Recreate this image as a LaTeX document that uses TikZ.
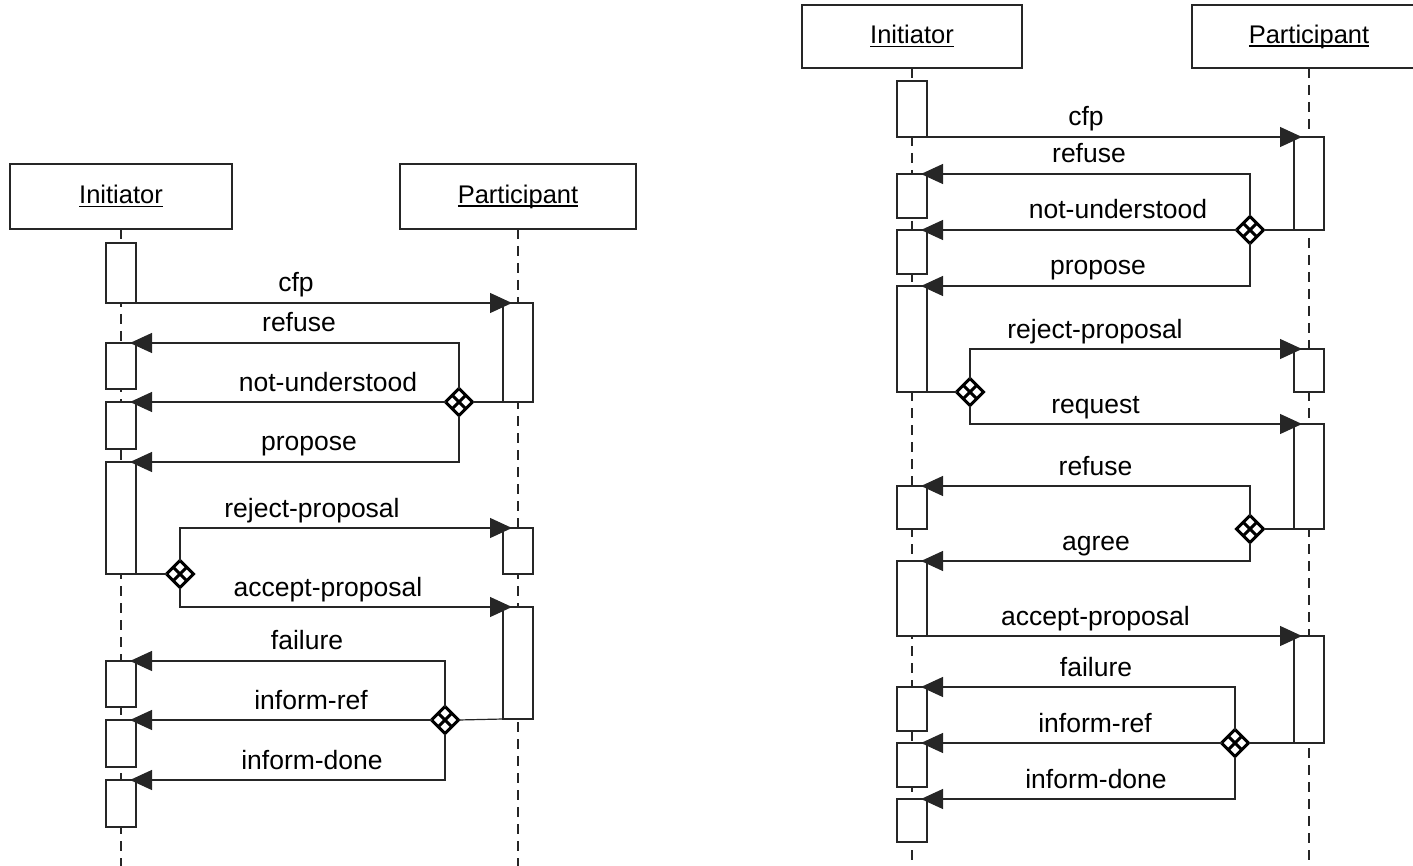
\documentclass[tikz,border=0pt]{standalone}
\usepackage{fontspec}
\setmainfont{Liberation Sans}
\usetikzlibrary{arrows.meta,shapes.geometric,calc}
\newcommand\myul[1]{\setbox0\hbox{#1}\rlap{\rule[-3.5pt]{\wd0}{1.3pt}}\box0}
\tikzset{
  ln/.style={line width=1.2pt, draw=black!85},
  head/.style={ln, rectangle, inner sep=0pt, outer sep=0pt, minimum height=65pt,
    font=\fontsize{25.5}{30}\selectfont},
  act/.style={ln, fill=white, rectangle, inner sep=0pt, outer sep=0pt, minimum width=30pt, anchor=north},
  life/.style={ln, dash pattern=on 10pt off 7pt},
  msg/.style={ln, -{Triangle[length=22pt,width=20pt]}},
  lbl/.style={font=\fontsize{26.5}{30}\selectfont, anchor=base, inner sep=0pt},
  dec/.style={diamond, draw=black, fill=white, line width=3pt, minimum size=27pt, inner sep=0pt, outer sep=0pt, aspect=1},
}
\newcommand\crossdec[1]{\draw[line width=3pt] ($(#1.north)!.5!(#1.east)$) -- ($(#1.south)!.5!(#1.west)$) ($(#1.north)!.5!(#1.west)$) -- ($(#1.south)!.5!(#1.east)$);}
\begin{document}
\begin{tikzpicture}[x=1pt,y=-1pt]
\useasboundingbox (0,0) rectangle (1413,866);
% ===================== LEFT DIAGRAM =====================
\node[head, draw, minimum width=222pt] (LI) at (121,196.5) {\myul{Initiator}};
\node[head, draw, minimum width=236pt] (LP) at (518,196.5) {\myul{Participant}};
\coordinate (LIe) at (121,866);
\coordinate (LPe) at (518,866);
\draw[life] (LI.south) -- (LIe);
\draw[life] (LP.south) -- (LPe);
% activations
\node[act, minimum height=60pt]  (ia1) at (121,243) {};
\node[act, minimum height=99pt]  (pa1) at (518,303) {};
\node[act, minimum height=46pt]  (ib2) at (121,343) {};
\node[act, minimum height=47pt]  (ib3) at (121,402) {};
\node[act, minimum height=112pt] (ib4) at (121,462) {};
\node[act, minimum height=46pt]  (pa2) at (518,528) {};
\node[act, minimum height=112pt] (pa3) at (518,607) {};
\node[act, minimum height=46pt]  (ib5) at (121,661) {};
\node[act, minimum height=47pt]  (ib6) at (121,720) {};
\node[act, minimum height=47pt]  (ib7) at (121,780) {};
% decisions
\node[dec] (dA) at (459,402) {};
\node[dec] (dB) at (180,574) {};
\node[dec] (dC) at (445,720) {};
% messages
\draw[msg] (ia1.south east) -- ([xshift=-6pt]pa1.north);
\draw[msg] (dA.north) |- ([xshift=9pt]ib2.north);
\draw[ln] (pa1.south west) -- (dA.east);
\draw[msg] (dA.west) -- ([xshift=9pt]ib3.north);
\draw[msg] (dA.south) |- ([xshift=9pt]ib4.north);
\draw[ln] (ib4.south east) -- (dB.west);
\draw[msg] (dB.north) |- ([xshift=-6pt]pa2.north);
\draw[msg] (dB.south) |- ([xshift=-6pt]pa3.north);
\draw[msg] (dC.north) |- ([xshift=9pt]ib5.north);
\draw[ln] (pa3.south west) -- (dC.east);
\draw[msg] (dC.west) -- ([xshift=9pt]ib6.north);
\draw[msg] (dC.south) |- ([xshift=9pt]ib7.north);
\crossdec{dA}\crossdec{dB}\crossdec{dC}
% labels
\node[lbl] (l1) at (296,292) {cfp};
\node[lbl] (l2) at (299,332) {refuse};
\node[lbl] (l3) at (328,391) {not-understood};
\node[lbl] (l4) at (309,450) {propose};
\node[lbl] (l5) at (312,517) {reject-proposal};
\node[lbl] (l6) at (328,596) {accept-proposal};
\node[lbl] (l7) at (307,649) {failure};
\node[lbl] (l8) at (311,709) {inform-ref};
\node[lbl] (l9) at (312,769) {inform-done};
% ===================== RIGHT DIAGRAM =====================
\node[head, draw, minimum width=220pt, minimum height=63pt] (RI) at (912,36.5) {\myul{Initiator}};
\node[head, draw, minimum width=234pt, minimum height=63pt] (RP) at (1309,36.5) {\myul{Participant}};
\coordinate (RIe) at (912,866);
\coordinate (RPe) at (1309,866);
\draw[life] (RI.south) -- (RIe);
\draw[life] (RP.south) -- (RPe);
% activations
\node[act, minimum height=56pt]  (ra1)  at (912,81) {};
\node[act, minimum height=93pt]  (rpa1) at (1309,137) {};
\node[act, minimum height=44pt]  (rb2)  at (912,174) {};
\node[act, minimum height=44pt]  (rb3)  at (912,230) {};
\node[act, minimum height=106pt] (rb4)  at (912,286) {};
\node[act, minimum height=43pt]  (rpa2) at (1309,349) {};
\node[act, minimum height=105pt] (rpa3) at (1309,424) {};
\node[act, minimum height=43pt]  (rb5)  at (912,486) {};
\node[act, minimum height=75pt]  (rb6)  at (912,561) {};
\node[act, minimum height=107pt] (rpa4) at (1309,636) {};
\node[act, minimum height=44pt]  (rb7)  at (912,687) {};
\node[act, minimum height=44pt]  (rb8)  at (912,743) {};
\node[act, minimum height=43pt]  (rb9)  at (912,799) {};
% decisions
\node[dec] (rdA) at (1250,230) {};
\node[dec] (rdB) at (970,392) {};
\node[dec] (rdC) at (1250,529) {};
\node[dec] (rdD) at (1235,743) {};
% messages
\draw[msg] (ra1.south east) -- ([xshift=-7pt]rpa1.north);
\draw[msg] (rdA.north) |- ([xshift=9pt]rb2.north);
\draw[ln] (rpa1.south west) -- (rdA.east);
\draw[msg] (rdA.west) -- ([xshift=9pt]rb3.north);
\draw[msg] (rdA.south) |- ([xshift=9pt]rb4.north);
\draw[ln] (rb4.south east) -- (rdB.west);
\draw[msg] (rdB.north) |- ([xshift=-7pt]rpa2.north);
\draw[msg] (rdB.south) |- ([xshift=-7pt]rpa3.north);
\draw[msg] (rdC.north) |- ([xshift=9pt]rb5.north);
\draw[ln] (rpa3.south west) -- (rdC.east);
\draw[msg] (rdC.south) |- ([xshift=9pt]rb6.north);
\draw[msg] (rb6.south east) -- ([xshift=-7pt]rpa4.north);
\draw[line width=2.6pt, black!85] ([xshift=-60pt]rpa4.north) -- ([xshift=-30pt]rpa4.north);
\draw[msg] (rdD.north) |- ([xshift=9pt]rb7.north);
\draw[ln] (rpa4.south west) -- (rdD.east);
\draw[msg] (rdD.west) -- ([xshift=9pt]rb8.north);
\draw[msg] (rdD.south) |- ([xshift=9pt]rb9.north);
\crossdec{rdA}\crossdec{rdB}\crossdec{rdC}\crossdec{rdD}
% labels
\node[lbl] (r1)  at (1086,126) {cfp};
\node[lbl] (r2)  at (1089,163) {refuse};
\node[lbl] (r3)  at (1118,219) {not-understood};
\node[lbl] (r4)  at (1098,275) {propose};
\node[lbl] (r5)  at (1095,338) {reject-proposal};
\node[lbl] (r6)  at (1095.5,413) {request};
\node[lbl] (r7)  at (1095.5,475) {refuse};
\node[lbl] (r8)  at (1096,550) {agree};
\node[lbl] (r9)  at (1095.5,625) {accept-proposal};
\node[lbl] (r10) at (1096,676) {failure};
\node[lbl] (r11) at (1095,732) {inform-ref};
\node[lbl] (r12) at (1096,788) {inform-done};
\end{tikzpicture}
\end{document}
